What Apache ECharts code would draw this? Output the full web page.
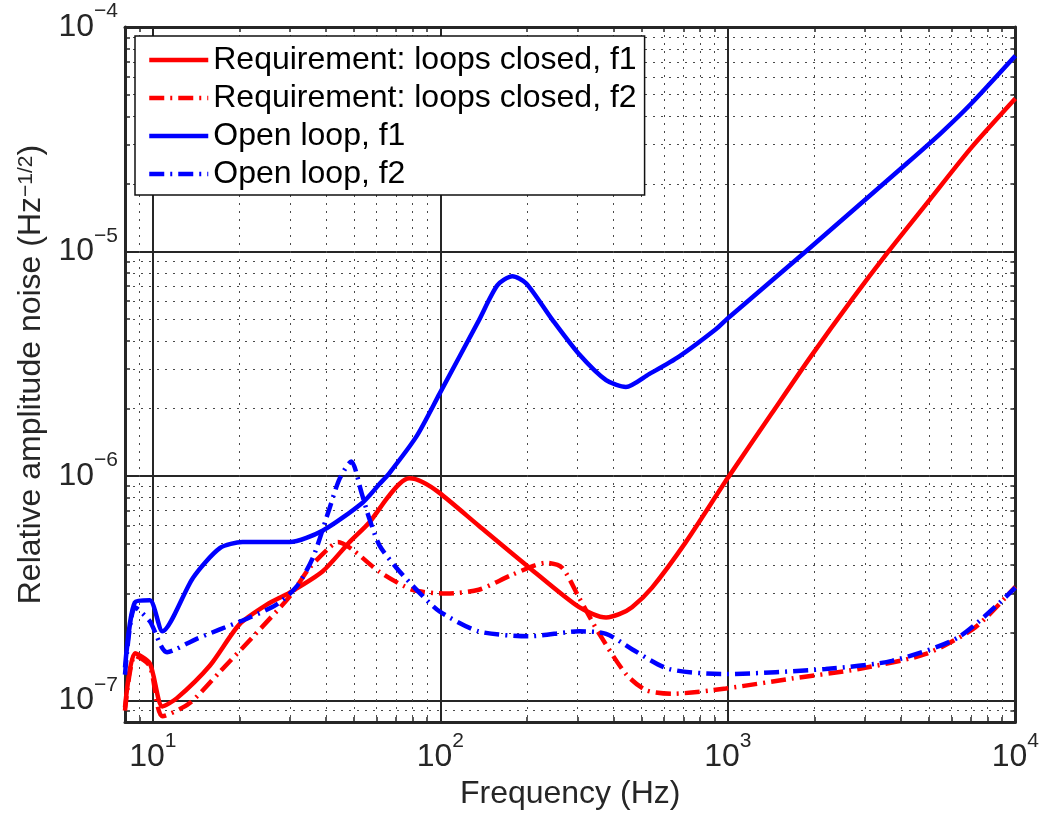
<!DOCTYPE html>
<html>
<head>
<meta charset="utf-8">
<script src="https://cdn.jsdelivr.net/npm/echarts@6/dist/echarts.min.js"></script>
<style>
html,body{margin:0;padding:0;background:#fff;}
#chart{width:1042px;height:815px;}
</style>
</head>
<body>
<div id="chart"></div>
<script>
// ---------- data (frequency in Hz, value in Hz^-1/2) ----------
const seriesNames = [
  'Requirement: loops closed, f1',
  'Requirement: loops closed, f2',
  'Open loop, f1',
  'Open loop, f2'
];
const reqF1 = [
  [8, 9.3e-8], [8.66, 1.62e-7], [9.76, 1.46e-7], [10.8, 9.4e-8], [12.1, 1.02e-7],
  [15.8, 1.43e-7], [20, 2.18e-7], [24.9, 2.67e-7], [29.9, 3.02e-7], [38.9, 3.75e-7],
  [48.3, 5.07e-7], [56.6, 6.2e-7], [65, 7.9e-7], [72, 9.2e-7], [78, 9.75e-7], [86.6, 9.4e-7],
  [99.3, 8.4e-7], [136, 6.0e-7], [204, 3.9e-7], [304, 2.6e-7], [377, 2.34e-7],
  [419, 2.42e-7], [464, 2.6e-7], [545, 3.18e-7], [714, 5.07e-7], [1000, 9.8e-7],
  [1422, 1.9e-6], [1942, 3.4e-6], [2700, 6.1e-6], [3620, 1.0e-5], [5000, 1.68e-5],
  [7030, 2.9e-5], [10000, 4.8e-5]
];
const reqF2 = [
  [8, 9.0e-8], [8.66, 1.58e-7], [9.76, 1.42e-7], [10.8, 8.5e-8], [13.4, 9.7e-8],
  [17.1, 1.34e-7], [22.2, 1.91e-7], [29.9, 2.9e-7], [35.1, 3.9e-7], [41.2, 4.8e-7],
  [44, 5.07e-7], [49.4, 4.7e-7], [61.4, 3.74e-7], [80, 3.11e-7], [105, 2.99e-7],
  [136, 3.11e-7], [178, 3.63e-7], [233, 4.1e-7], [265, 3.9e-7], [304, 2.86e-7],
  [357, 1.98e-7], [442, 1.31e-7], [519, 1.11e-7], [640, 1.07e-7], [984, 1.13e-7],
  [1667, 1.25e-7], [2850, 1.38e-7], [4880, 1.61e-7], [7270, 2.12e-7], [10000, 3.21e-7]
];
const openF1 = [
  [8, 1.4e-7], [8.66, 2.73e-7], [9.76, 2.79e-7], [10.8, 2.03e-7], [13.8, 3.52e-7],
  [17.1, 4.77e-7], [20.5, 5.07e-7], [29.9, 5.07e-7], [38.9, 5.7e-7], [53.6, 7.6e-7],
  [61.4, 9.2e-7], [66.5, 1.03e-6], [82.6, 1.5e-6], [99.3, 2.32e-6], [136, 4.92e-6],
  [158, 7.08e-6], [178, 7.76e-6], [199, 7.2e-6], [245, 4.97e-6], [304, 3.48e-6],
  [377, 2.67e-6], [442, 2.49e-6], [532, 2.84e-6], [676, 3.4e-6], [908, 4.5e-6],
  [998, 5.03e-6], [1866, 1.0e-5], [4150, 2.44e-5], [5500, 3.36e-5], [7030, 4.56e-5],
  [10000, 7.44e-5]
];
const openF2 = [
  [8, 1.3e-7], [8.66, 2.6e-7], [9.76, 2.25e-7], [11.2, 1.64e-7], [14.2, 1.88e-7],
  [17.1, 2.07e-7], [21.7, 2.34e-7], [26.9, 2.67e-7], [31.6, 3.21e-7], [36, 4.31e-7],
  [41.2, 7.2e-7], [44.6, 9.7e-7], [49, 1.16e-6], [53.2, 8.4e-7], [56.6, 6.46e-7],
  [61.4, 4.9e-7], [70.3, 3.9e-7], [84.5, 3.02e-7], [99.3, 2.49e-7], [136, 2.03e-7],
  [204, 1.93e-7], [304, 2.03e-7], [377, 1.98e-7], [464, 1.69e-7], [623, 1.38e-7],
  [984, 1.31e-7], [2186, 1.38e-7], [3720, 1.5e-7], [6340, 1.91e-7], [10000, 3.18e-7]
];
// axis ticks
const xMajor = [10, 100, 1000, 10000];
const xMinor = [9, 20, 30, 40, 50, 60, 70, 80, 90, 200, 300, 400, 500, 600, 700, 800, 900,
  2000, 3000, 4000, 5000, 6000, 7000, 8000, 9000];
const yMajor = [1e-7, 1e-6, 1e-5, 1e-4];
const yMinor = [9e-8, 2e-7, 3e-7, 4e-7, 5e-7, 6e-7, 7e-7, 8e-7, 9e-7,
  2e-6, 3e-6, 4e-6, 5e-6, 6e-6, 7e-6, 8e-6, 9e-6,
  2e-5, 3e-5, 4e-5, 5e-5, 6e-5, 7e-5, 8e-5, 9e-5];
const xRange = [8, 10000];
const yRange = [8e-8, 1e-4];

// ---------- styling ----------
const FONT = '"Liberation Sans", Arial, Helvetica, sans-serif';
const AX = '#262626';
const FS = 32, SFS = 21;
const supRich = {
  b: {fontSize: FS, fontFamily: FONT, color: AX, lineHeight: 52},
  s: {fontSize: SFS, fontFamily: FONT, color: AX, lineHeight: 21, verticalAlign: 'top'}
};
function powLabel(v) {
  const e = Math.round(Math.log10(v));
  return '{b|10}{s|' + (e < 0 ? '\u2212' + (-e) : String(e)) + '}';
}
function axisSet(kind, range, major, minor) {
  const isX = kind === 'x';
  const base = {type: 'log', logBase: 10, min: range[0], max: range[1]};
  return [
    Object.assign({}, base, {
      position: isX ? 'bottom' : 'left',
      axisLine: {show: true, lineStyle: {color: AX, width: 3}},
      axisTick: {show: true, inside: true, length: 9, customValues: major, lineStyle: {color: AX, width: 2}},
      axisLabel: {show: true, customValues: major, formatter: powLabel, rich: supRich,
        margin: isX ? 9 : 7},
      splitLine: {show: true, lineStyle: {color: AX, width: 2}},
      name: isX ? 'Frequency (Hz)' : 'Relative amplitude noise (Hz{s|\u22121/2})',
      nameLocation: 'middle',
      nameGap: isX ? 53 : 70,
      nameRotate: isX ? 0 : 90,
      nameTextStyle: {fontSize: FS, fontFamily: FONT, color: AX,
        rich: {s: {fontSize: SFS, fontFamily: FONT, color: AX, lineHeight: 21, verticalAlign: 'top'}}}
    }),
    Object.assign({}, base, {
      position: isX ? 'bottom' : 'left',
      axisLine: {show: false},
      axisTick: {show: true, inside: true, length: 5, customValues: minor, lineStyle: {color: AX, width: 1.5}},
      axisLabel: {show: false},
      splitLine: {show: true, lineStyle: {color: '#4a4a4a', width: 1, type: [2, 6]}}
    }),
    Object.assign({}, base, {
      position: isX ? 'top' : 'right',
      axisLine: {show: true, lineStyle: {color: AX, width: 3}},
      axisTick: {show: true, inside: true, length: 9, customValues: major, lineStyle: {color: AX, width: 2}},
      axisLabel: {show: false},
      splitLine: {show: false}
    }),
    Object.assign({}, base, {
      position: isX ? 'top' : 'right',
      axisLine: {show: false},
      axisTick: {show: true, inside: true, length: 5, customValues: minor, lineStyle: {color: AX, width: 1.5}},
      axisLabel: {show: false},
      splitLine: {show: false}
    })
  ];
}

const dashDot = [15, 6, 2, 6];
function mkSeries(name, data, color, dashed) {
  return {
    name: name, type: 'line', data: data, xAxisIndex: 0, yAxisIndex: 0,
    symbol: 'none', smooth: 0.25, clip: true,
    lineStyle: {color: color, width: 4.5, type: dashed ? dashDot : 'solid', cap: 'butt'},
    itemStyle: {color: color}
  };
}

const chart = echarts.init(document.getElementById('chart'), null, {renderer: 'canvas'});
chart.setOption({
  animation: false,
  backgroundColor: '#fff',
  grid: {left: 125, right: 25, top: 27, bottom: 87, containLabel: false},
  xAxis: axisSet('x', xRange, xMajor, xMinor),
  yAxis: axisSet('y', yRange, yMajor, yMinor),
  legend: {
    orient: 'vertical', left: 135, top: 36,
    padding: [5, 8, 2, 12], itemGap: 0, itemWidth: 59, itemHeight: 14,
    backgroundColor: '#fff', borderColor: '#111', borderWidth: 1.5, borderRadius: 0,
    itemStyle: {opacity: 0},
    lineStyle: {width: 4.5},
    textStyle: {fontSize: FS, fontFamily: FONT, color: '#000', lineHeight: 38},
    data: seriesNames
  },
  series: [
    mkSeries(seriesNames[0], reqF1, '#ff0000', false),
    mkSeries(seriesNames[1], reqF2, '#ff0000', true),
    mkSeries(seriesNames[2], openF1, '#0000ff', false),
    mkSeries(seriesNames[3], openF2, '#0000ff', true)
  ]
});
</script>
</body>
</html>
